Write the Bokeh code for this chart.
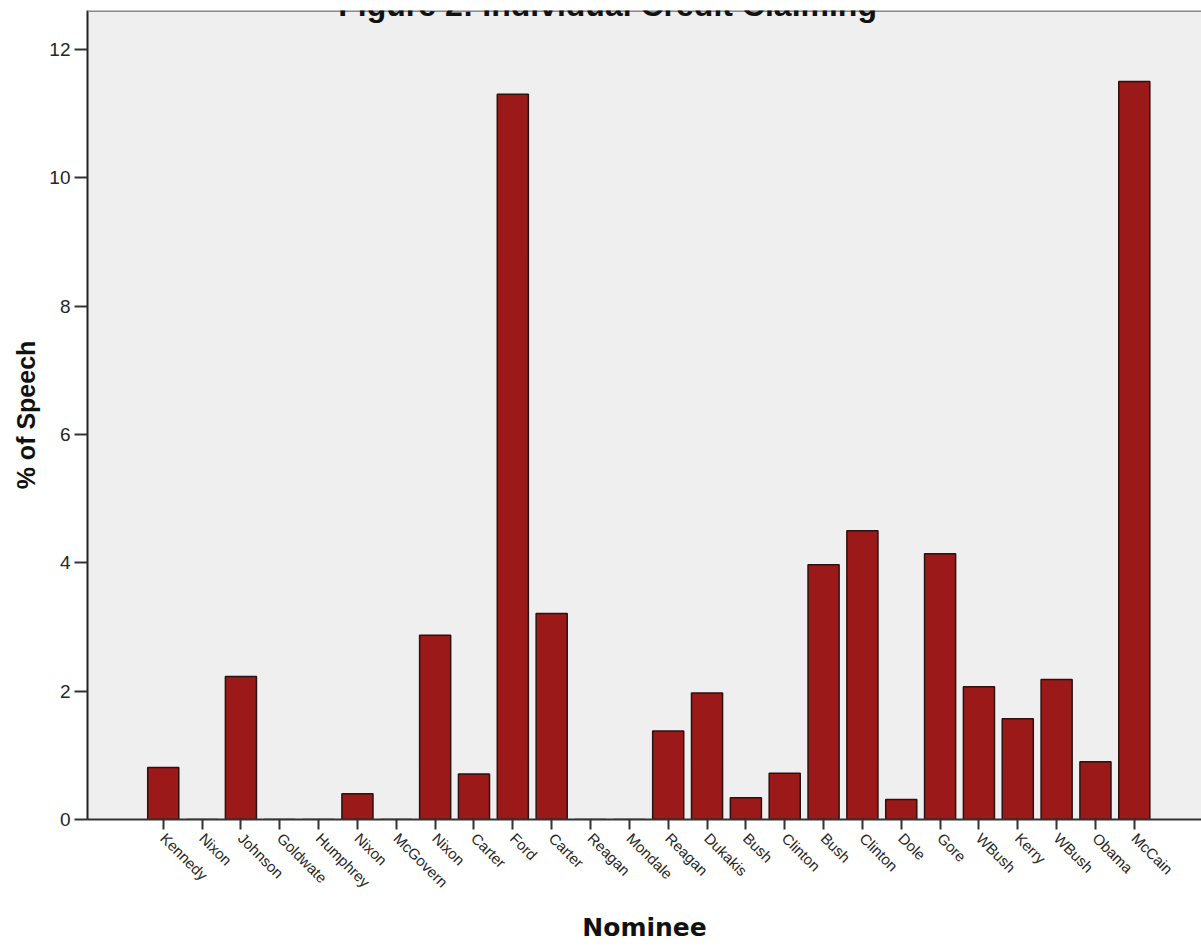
import math
from bokeh.plotting import figure
from bokeh.models import Range1d, FixedTicker, Label, Span, ColumnDataSource
from bokeh.embed import file_html
from bokeh.resources import INLINE

# ---- data ----
nominees = ["Kennedy", "Nixon", "Johnson", "Goldwate", "Humphrey", "Nixon",
            "McGovern", "Nixon", "Carter", "Ford", "Carter", "Reagan",
            "Mondale", "Reagan", "Dukakis", "Bush", "Clinton", "Bush",
            "Clinton", "Dole", "Gore", "WBush", "Kerry", "WBush", "Obama",
            "McCain"]
pct_speech = [0.81, 0.0, 2.23, 0.0, 0.0, 0.40, 0.0, 2.87, 0.71, 11.30,
              3.21, 0.0, 0.0, 1.38, 1.97, 0.34, 0.72, 3.97, 4.50, 0.31,
              4.14, 2.07, 1.57, 2.18, 0.90, 11.50]
y_ticks = [0, 2, 4, 6, 8, 10, 12]
title_text = "Figure 2: Individual Credit Claiming"

positions = list(range(len(nominees)))
source = ColumnDataSource(data=dict(x=positions, top=pct_speech, name=nominees))

Y_END = 12.607

p = figure(width=1201, height=946, output_backend="svg", toolbar_location=None,
           x_range=Range1d(-1.95, 26.73), y_range=Range1d(0, Y_END),
           min_border_left=87, min_border_right=0, min_border_top=10,
           min_border_bottom=127,
           background_fill_color="#efefef", border_fill_color="white",
           outline_line_color=None)

p.vbar(x="x", top="top", bottom=0, width=0.8, source=source,
       fill_color="#9b1919", line_color="#2b1212", line_width=1.5)

p.xgrid.visible = False
p.ygrid.visible = False

# top frame border
p.add_layout(Span(location=Y_END, dimension="width", line_color="#8a8a8a",
                  line_width=3))

# y axis
p.yaxis.ticker = FixedTicker(ticks=y_ticks)
p.yaxis.axis_label = "% of Speech"
p.yaxis.axis_label_text_font = "Liberation Sans"
p.yaxis.axis_label_text_font_style = "bold"
p.yaxis.axis_label_text_font_size = "25px"
p.yaxis.axis_label_text_color = "#111111"
p.yaxis.axis_label_standoff = 6
p.yaxis.major_label_text_font = "Liberation Sans"
p.yaxis.major_label_text_font_size = "19px"
p.yaxis.major_label_text_color = "#262626"
p.yaxis.major_label_standoff = 4
p.yaxis.major_tick_out = 13
p.yaxis.major_tick_in = 0
p.yaxis.minor_tick_out = 0
p.yaxis.minor_tick_in = 0
p.yaxis.major_tick_line_width = 2
p.yaxis.major_tick_line_color = "#333333"
p.yaxis.axis_line_width = 2
p.yaxis.axis_line_color = "#222222"

# x axis
p.xaxis.ticker = FixedTicker(ticks=positions)
p.xaxis.major_label_overrides = {i: n for i, n in zip(positions, nominees)}
p.xaxis.major_label_orientation = -math.pi / 4
p.xaxis.major_label_text_font = "Liberation Sans"
p.xaxis.major_label_text_font_size = "15px"
p.xaxis.major_label_text_color = "#262626"
p.xaxis.major_label_standoff = 6
p.xaxis.major_tick_out = 10
p.xaxis.major_tick_in = 0
p.xaxis.minor_tick_out = 0
p.xaxis.minor_tick_in = 0
p.xaxis.major_tick_line_width = 2
p.xaxis.major_tick_line_color = "#333333"
p.xaxis.axis_line_width = 2
p.xaxis.axis_line_color = "#333333"
p.xaxis.axis_label = "Nominee"
p.xaxis.axis_label_text_font = "DejaVu Sans"
p.xaxis.axis_label_text_font_style = "bold"
p.xaxis.axis_label_text_font_size = "25px"
p.xaxis.axis_label_text_color = "#111111"
p.xaxis.axis_label_standoff = 14

# title (cut off at the top, as in the reference)
p.add_layout(Label(x=11.44, y=12.685, text=title_text, text_align="center",
                   text_baseline="alphabetic", text_font="Liberation Sans",
                   text_font_style="bold", text_font_size="32px",
                   text_color="#111111"))

open("out.html", "w").write(file_html(p, INLINE))
